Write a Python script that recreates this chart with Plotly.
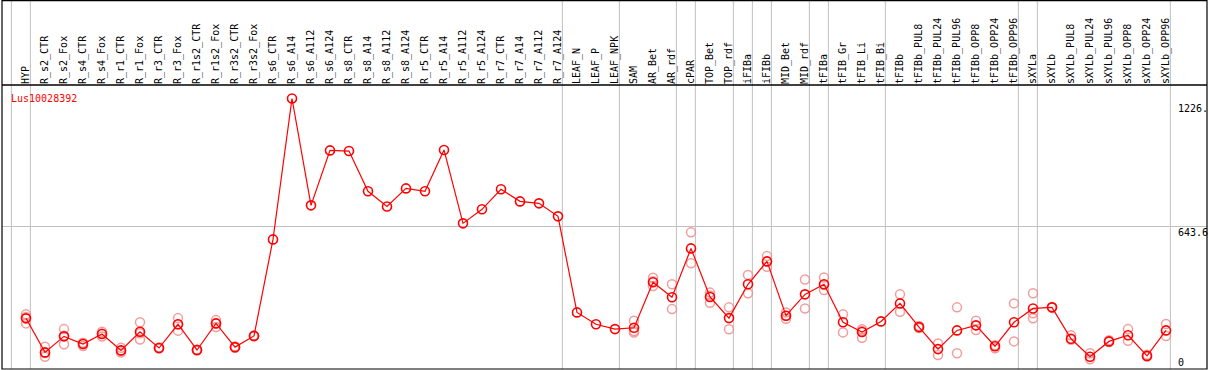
import plotly.graph_objects as go

categories = ["HYP", "R_s2_CTR", "R_s2_Fox", "R_s4_CTR", "R_s4_Fox", "R_r1_CTR", "R_r1_Fox",
              "R_r3_CTR", "R_r3_Fox", "R_r1s2_CTR", "R_r1s2_Fox", "R_r3s2_CTR", "R_r3s2_Fox",
              "R_s6_CTR", "R_s6_A14", "R_s6_A112", "R_s6_A124", "R_s8_CTR", "R_s8_A14", "R_s8_A112",
              "R_s8_A124", "R_r5_CTR", "R_r5_A14", "R_r5_A112", "R_r5_A124", "R_r7_CTR", "R_r7_A14",
              "R_r7_A112", "R_r7_A124", "LEAF_N", "LEAF_P", "LEAF_NPK", "SAM", "AR_Bet", "AR_rdf",
              "cPAR", "TOP_Bet", "TOP_rdf", "iFIBa", "iFIBb", "MID_Bet", "MID_rdf", "tFIBa",
              "tFIB_Gr", "tFIB_Li", "tFIB_Bi", "tFIBb", "tFIBb_PUL8", "tFIBb_PUL24", "tFIBb_PUL96",
              "tFIBb_OPP8", "tFIBb_OPP24", "tFIBb_OPP96", "sXYLa", "sXYLb", "sXYLb_PUL8",
              "sXYLb_PUL24", "sXYLb_PUL96", "sXYLb_OPP8", "sXYLb_OPP24", "sXYLb_OPP96"]

mean_values = [226, 71, 144, 109, 155, 80, 165, 91, 199, 82, 203, 95, 146,
               585, 1226, 740, 990, 987, 804, 735, 817, 804, 992, 658, 722, 813, 758, 749, 690,
               253, 199, 177, 183, 390, 322, 544, 323, 227, 381, 485, 238, 335, 381,
               208, 164, 212, 294, 186, 86, 171, 194, 99, 208, 271, 276, 133, 51, 121, 149, 55, 171]

rep_a = [244, 97, 177, 112, 165, 92, 208, 91, 227, 84, 218, 98, 148,
         None, None, None, None, None, None, None, None, None, None, None, None, None, None, None, None,
         None, None, None, 215, 411, 381, 617, 343, 276, 423, 509, 253, 403, 412,
         244, 176, None, 335, 191, 112, 276, 215, 90, 294, 340, 278, 149, 67, 126, 177, 60, 200]
rep_b = [203, 51, 108, 100, 143, 70, 130, 93, 170, 80, 186, 92, 144,
         None, None, None, None, None, None, None, None, None, None, None, None, None, None, None, None,
         None, None, None, 168, 373, 268, 476, 297, 176, 340, 461, 224, 271, 355,
         162, 138, None, 256, 182, 59, 67, 173, 104, 121, 249, 274, 128, 40, 118, 124, 52, 146]
rep_c = [232, 68, 147, 115, 157, 80, 158, 89, 199, 82, 205, 95, 146,
         None, None, None, None, None, None, None, None, None, None, None, None, None, None, None, None,
         None, None, None, 161, 395, None, None, 330, None, None, 485, 238, None, 378,
         None, 168, None, None, 186, None, None, None, None, None, 226, None, None, None, None, None, None, None]

group_ends = [-1, 0, 28, 31, 34, 35, 37, 38, 39, 41, 42, 45, 52, 53, 60]
gene_name = "Lus10028392"
y_labels = ["1226.", "643.6", "0"]
y_label_pos = [1182, 618, 27]
grid_value = 643.6

idx = list(range(len(categories)))
fig = go.Figure()

pink = "rgba(238,140,140,0.85)"
for reps in (rep_a, rep_b, rep_c):
    fig.add_trace(go.Scatter(
        x=idx, y=reps, mode="markers",
        marker=dict(symbol="circle-open", size=9, color=pink, line=dict(width=1.5, color=pink)),
        hoverinfo="skip", showlegend=False))

fig.add_trace(go.Scatter(
    x=idx, y=mean_values, mode="lines+markers",
    line=dict(color="#ff0000", width=1.2),
    marker=dict(symbol="circle-open", size=9, color="#ff0000", line=dict(width=1.6, color="#ff0000")),
    showlegend=False))

TOP = 1 + 85 / 284
shapes = []
for g in group_ends:
    shapes.append(dict(type="line", xref="x", yref="paper", x0=g + 0.23, x1=g + 0.23,
                       y0=0, y1=TOP, line=dict(color="#c0c0c0", width=1), layer="below"))
shapes.append(dict(type="rect", xref="paper", yref="paper", x0=0, x1=1, y0=0, y1=TOP - 0.002,
                   line=dict(color="black", width=1.2)))
shapes.append(dict(type="line", xref="paper", yref="paper", x0=0, x1=1, y0=1, y1=1,
                   line=dict(color="black", width=1.5)))

annotations = [dict(text=gene_name, xref="paper", yref="paper", x=0, y=1, xanchor="left", yanchor="top",
                    xshift=7, yshift=-6, showarrow=False,
                    font=dict(family="DejaVu Sans Mono", size=10, color="#ff0000"))]
for t, p in zip(y_labels, y_label_pos):
    annotations.append(dict(text=t, xref="x", yref="y", x=60.63, y=p, xanchor="left", yanchor="middle",
                            showarrow=False, xshift=-2,
                            font=dict(family="DejaVu Sans Mono", size=10, color="black")))

fig.update_layout(
    width=1209, height=370,
    margin=dict(l=2, r=2, t=85, b=1),
    plot_bgcolor="white", paper_bgcolor="white",
    shapes=shapes, annotations=annotations,
    xaxis=dict(range=[-1.263, 62.158], tickmode="array", tickvals=idx, ticktext=categories,
               side="top", tickangle=-90, ticks="", showgrid=False, zeroline=False, showline=False,
               tickfont=dict(family="DejaVu Sans Mono", size=10, color="black"), automargin=False),
    yaxis=dict(range=[-4.5, 1287.4], tickmode="array", tickvals=[grid_value], showticklabels=False,
               showgrid=True, gridcolor="#c0c0c0", gridwidth=1, zeroline=False, showline=False,
               automargin=False),
)

fig.write_html("out.html", config={"displayModeBar": False},
               post_script="document.body.style.margin='0';document.body.style.overflow='hidden';")
